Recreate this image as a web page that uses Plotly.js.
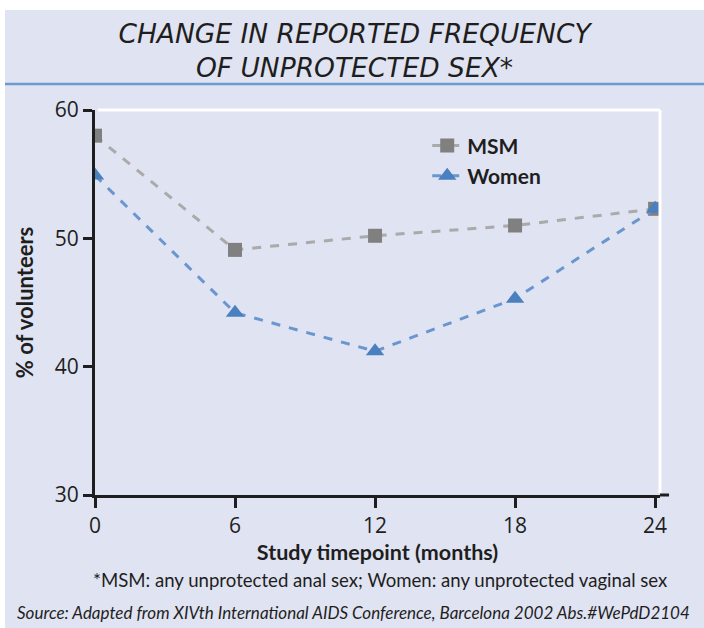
<!DOCTYPE html>
<html>
<head>
<meta charset="utf-8">
<script src="https://cdn.plot.ly/plotly-3.0.1.min.js"></script>
<style>
html,body{margin:0;padding:0;background:#ffffff;}
#chart{position:absolute;left:5px;top:10px;width:699px;height:618px;}
</style>
</head>
<body>
<div id="chart"></div>
<script>
const months = [0, 6, 12, 18, 24];
const msm = [58.0, 49.1, 50.2, 51.0, 52.3];
const women = [54.9, 44.2, 41.2, 45.3, 52.3];
const xTicks = [0, 6, 12, 18, 24];
const yTicks = [30, 40, 50, 60];

const bg = '#e0e3f1';
const ink = '#1e1e1e';
const traces = [
  {x: months, y: msm, name: 'MSM', type: 'scatter', mode: 'lines+markers',
   line: {color: '#aaaaaa', width: 3, dash: 'dash'},
   marker: {symbol: 'square', size: 14, color: '#808080'}},
  {x: months, y: women, name: 'Women', type: 'scatter', mode: 'lines+markers',
   line: {color: '#6a96d0', width: 3, dash: 'dash'},
   marker: {symbol: 'triangle-up', size: 16, color: '#4a7fc0'}}
];

const layout = {
  width: 699, height: 618,
  paper_bgcolor: bg, plot_bgcolor: bg,
  margin: {l: 90, r: 44, t: 100, b: 133},
  font: {family: 'Lato, sans-serif', color: ink},
  title: {text: '<i>CHANGE IN REPORTED FREQUENCY<br>OF UNPROTECTED SEX*</i>',
          font: {family: '"DejaVu Sans", sans-serif', size: 26.5, color: ink},
          x: 0.5, xanchor: 'center', y: 0.947, yanchor: 'middle', yref: 'container'},
  xaxis: {range: [0, 24.21], tickvals: xTicks, ticktext: xTicks.map(String),
          showline: true, linecolor: ink, linewidth: 3,
          ticks: 'outside', ticklen: 10, tickwidth: 3, tickcolor: ink,
          showgrid: false, zeroline: false,
          tickfont: {family: '"Open Sans", sans-serif', size: 21, color: ink},
          title: {text: '<b>Study timepoint (months)</b>', font: {size: 21.5, color: ink}, standoff: 4}},
  yaxis: {range: [30, 60], tickvals: yTicks, ticktext: yTicks.map(String),
          showline: true, linecolor: ink, linewidth: 3,
          ticks: 'outside', ticklen: 9, tickwidth: 3, tickcolor: ink,
          showgrid: false, zeroline: false,
          tickfont: {family: '"Open Sans", sans-serif', size: 21, color: ink},
          title: {text: '<b>% of volunteers</b>', font: {size: 22, color: ink}, standoff: 16}},
  showlegend: true,
  legend: {x: 0.588, y: 0.96, xanchor: 'left', yanchor: 'top', bgcolor: 'rgba(0,0,0,0)',
           font: {size: 21, color: ink, weight: 'bold'}, tracegroupgap: 0},
  shapes: [
    {type: 'line', xref: 'paper', yref: 'paper', x0: -0.16, x1: 1.08, y0: 1.0675, y1: 1.0675,
     line: {color: '#6a9ad0', width: 2.5}},
    {type: 'line', xref: 'paper', yref: 'paper', x0: 0.005, x1: 1, y0: 1, y1: 1,
     line: {color: '#ffffff', width: 3}},
    {type: 'line', xref: 'paper', yref: 'paper', x0: 1, x1: 1, y0: 0.005, y1: 1,
     line: {color: '#ffffff', width: 3}},
    {type: 'line', xref: 'paper', yref: 'paper', x0: 1, x1: 1.016, y0: 0, y1: 0,
     line: {color: ink, width: 3}}
  ],
  annotations: [
    {text: '*MSM: any unprotected anal sex; Women: any unprotected vaginal sex',
     xref: 'paper', yref: 'paper', x: 0.505, y: -0.221, xanchor: 'center', yanchor: 'middle',
     showarrow: false, font: {size: 18.6, color: ink}},
    {text: '<i>Source: Adapted from XIVth International AIDS Conference, Barcelona 2002 Abs.#WePdD2104</i>',
     xref: 'paper', yref: 'paper', x: 0.457, y: -0.304, xanchor: 'center', yanchor: 'middle',
     showarrow: false, font: {size: 17, color: ink}}
  ]
};

Plotly.newPlot('chart', traces, layout, {displayModeBar: false});
</script>
</body>
</html>
